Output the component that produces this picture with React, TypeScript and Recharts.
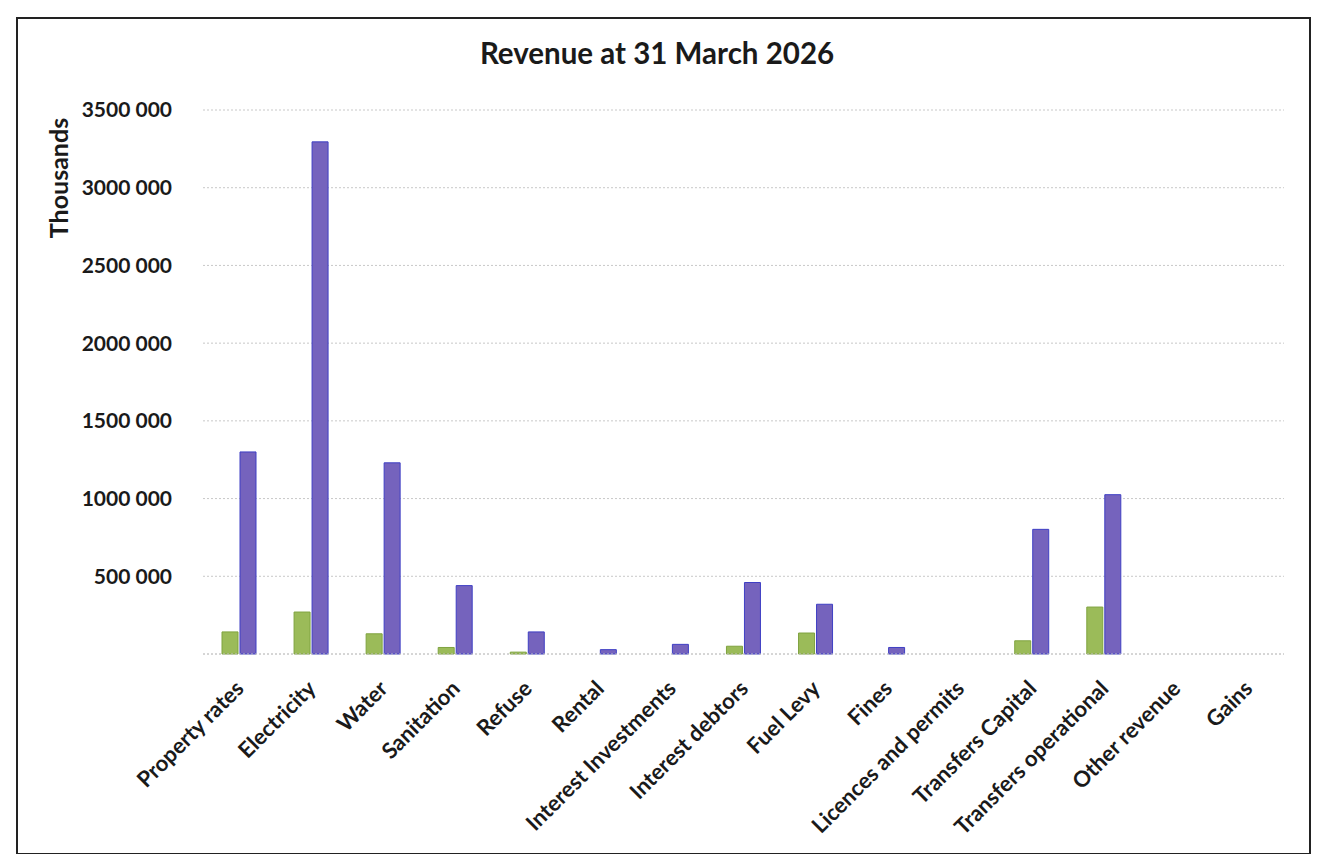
import { BarChart, Bar, XAxis, YAxis, CartesianGrid, Label } from "recharts";

const categories = [
  "Property rates",
  "Electricity",
  "Water",
  "Sanitation",
  "Refuse",
  "Rental",
  "Interest Investments",
  "Interest debtors",
  "Fuel Levy",
  "Fines",
  "Licences and permits",
  "Transfers Capital",
  "Transfers operational",
  "Other revenue",
  "Gains",
];

const greenValues = [142000, 270000, 130000, 42000, 12000, 0, 0, 50000, 135000, 0, 0, 85000, 302000, 0, 0];
const purpleValues = [1300000, 3295000, 1230000, 440000, 142000, 28000, 62000, 460000, 320000, 42000, 0, 802000, 1025000, 0, 0];

const yTicks = [0, 500000, 1000000, 1500000, 2000000, 2500000, 3000000, 3500000];
const yTickLabels = ["", "500 000", "1000 000", "1500 000", "2000 000", "2500 000", "3000 000", "3500 000"];

const data = categories.map((name, i) => ({
  name,
  green: greenValues[i],
  purple: purpleValues[i],
}));

const FONT = "Lato, 'Open Sans', sans-serif";

const XTick = ({ x, y, payload }: any) => (
  <text
    x={x + 6}
    y={y + 28}
    transform={`rotate(-45, ${x + 6}, ${y + 28})`}
    textAnchor="end"
    fontFamily={FONT}
    fontWeight={700}
    fontSize={22}
    fill="#1a1a1a"
  >
    {payload.value}
  </text>
);

const yFormat = (v: number) => yTickLabels[yTicks.indexOf(v)] ?? String(v);

const ThousandsLabel = () => (
  <text
    x={68}
    y={178}
    transform="rotate(-90, 68, 178)"
    textAnchor="middle"
    fontFamily={FONT}
    fontWeight={700}
    fontSize={25}
    fill="#1a1a1a"
  >
    Thousands
  </text>
);

export default function App() {
  return (
    <div style={{ position: "absolute", left: 0, top: 0, width: 1325, height: 854, background: "#fff" }}>
      <div
        style={{
          position: "absolute",
          left: 16,
          top: 17,
          width: 1291,
          height: 834,
          border: "2px solid #222",
        }}
      />
      <div
        style={{
          position: "absolute",
          left: 0,
          top: 35,
          width: 1314,
          textAlign: "center",
          fontFamily: FONT,
          fontWeight: 700,
          fontSize: 29.5,
          color: "#1a1a1a",
        }}
      >
        Revenue at 31 March 2026
      </div>
      <div style={{ position: "absolute", left: 0, top: 0 }}>
        <BarChart
          width={1325}
          height={854}
          data={data}
          margin={{ top: 110, right: 41, left: 93, bottom: 0 }}
          barSize={16}
          barGap={2}
        >
          <CartesianGrid vertical={false} stroke="#c8c8c8" strokeDasharray="2 2" />
          <XAxis
            dataKey="name"
            interval={0}
            axisLine={{ stroke: "#c8c8c8", strokeDasharray: "2 2" }}
            tickLine={false}
            tick={<XTick />}
            height={200}
          />
          <YAxis
            width={110}
            domain={[0, 3500000]}
            ticks={yTicks}
            tickFormatter={yFormat}
            axisLine={false}
            tickLine={false}
            tickSize={0}
            tickMargin={31}
            tick={{ fontFamily: FONT, fontWeight: 700, fontSize: 21, fill: "#1a1a1a" }}
          >
            <Label content={<ThousandsLabel />} />
          </YAxis>
          <Bar dataKey="green" fill="#9bbb59" stroke="#7fa33f" strokeWidth={1} isAnimationActive={false} />
          <Bar dataKey="purple" fill="#7563bd" stroke="#3f3fc4" strokeWidth={1} isAnimationActive={false} />
        </BarChart>
      </div>
    </div>
  );
}
